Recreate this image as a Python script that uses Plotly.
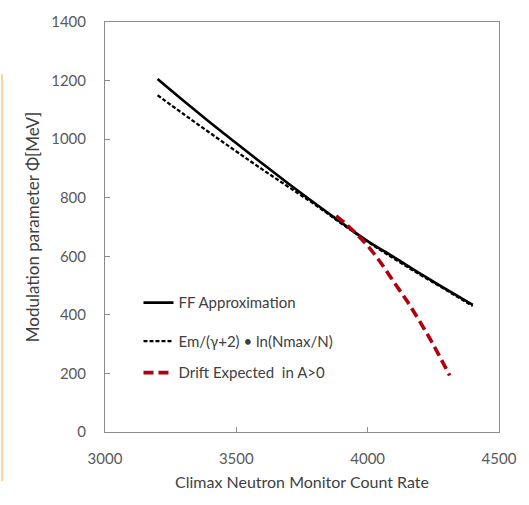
import plotly.graph_objects as go

# Data
ff_x = [3200, 3300, 3400, 3500, 3600, 3700, 3800, 3900, 4000, 4100, 4200, 4300, 4400]
ff_y = [1205, 1130, 1057, 986, 916, 847, 780, 715, 652, 597, 541, 487, 434]

em_x = [3200, 3300, 3400, 3500, 3600, 3700, 3800, 3900, 4000, 4100, 4200, 4300, 4400]
em_y = [1150, 1085, 1021, 958, 896, 836, 776, 712, 650, 592, 537, 484, 430]

drift_x = [3880, 3920, 3960, 4000, 4050, 4100, 4150, 4200, 4250, 4312]
drift_y = [738, 708, 674, 636, 578, 512, 447, 375, 298, 193]

x_ticks = [3000, 3500, 4000, 4500]
y_ticks = [0, 200, 400, 600, 800, 1000, 1200, 1400]

FONT = "Lato, Open Sans, sans-serif"
GRAY = "#595959"
DARK = "#404040"

fig = go.Figure()
fig.add_trace(go.Scatter(x=ff_x, y=ff_y, mode="lines", name="FF Approximation",
                         line=dict(color="black", width=2.6, shape="spline"),
                         legend="legend"))
fig.add_trace(go.Scatter(x=em_x, y=em_y, mode="lines", name="Em/(γ+2) • ln(Nmax/N)",
                         line=dict(color="black", width=2.3, dash="4px,2px", shape="spline"),
                         legend="legend2"))
fig.add_trace(go.Scatter(x=drift_x, y=drift_y, mode="lines", name="Drift Expected  in A>0",
                         line=dict(color="#B00010", width=3.6, dash="10px,5px", shape="spline"),
                         legend="legend3"))

axis_common = dict(showgrid=False, zeroline=False, showline=True, linecolor="#8c8c8c",
                   linewidth=1, mirror=True, ticks="inside", ticklen=5, tickcolor="#8c8c8c",
                   tickfont=dict(family=FONT, size=15, color=GRAY))

leg_common = dict(x=0.085, xanchor="left", yanchor="middle", bgcolor="rgba(0,0,0,0)",
                  font=dict(family=FONT, size=15, color=DARK))

fig.update_layout(
    width=529, height=505,
    margin=dict(l=105, r=26, t=16, b=73),
    paper_bgcolor="white", plot_bgcolor="white",
    showlegend=True,
    legend=dict(y=(432 - 301) / 416, **leg_common),
    legend2=dict(y=(432 - 340) / 416, **leg_common),
    legend3=dict(y=(432 - 372) / 416, **leg_common),
    xaxis=dict(range=[3000, 4500], tickvals=x_ticks, ticklabelstandoff=13,
               title=dict(text="Climax Neutron Monitor Count Rate", standoff=10,
                          font=dict(family=FONT, size=16, color=DARK)),
               **axis_common),
    yaxis=dict(range=[0, 1400], tickvals=y_ticks, ticklabelstandoff=15,
               title=dict(text="Modulation parameter Φ[MeV]", standoff=7,
                          font=dict(family=FONT, size=17, color=DARK)),
               **axis_common),
)

# light orange page-edge line at the far left
fig.add_shape(type="line", xref="paper", yref="paper",
              x0=-104/398, x1=-104/398, y0=(432 - 69) / 416, y1=(432 - 482) / 416,
              line=dict(color="#FCD3A0", width=2))

fig.write_html("out.html")
